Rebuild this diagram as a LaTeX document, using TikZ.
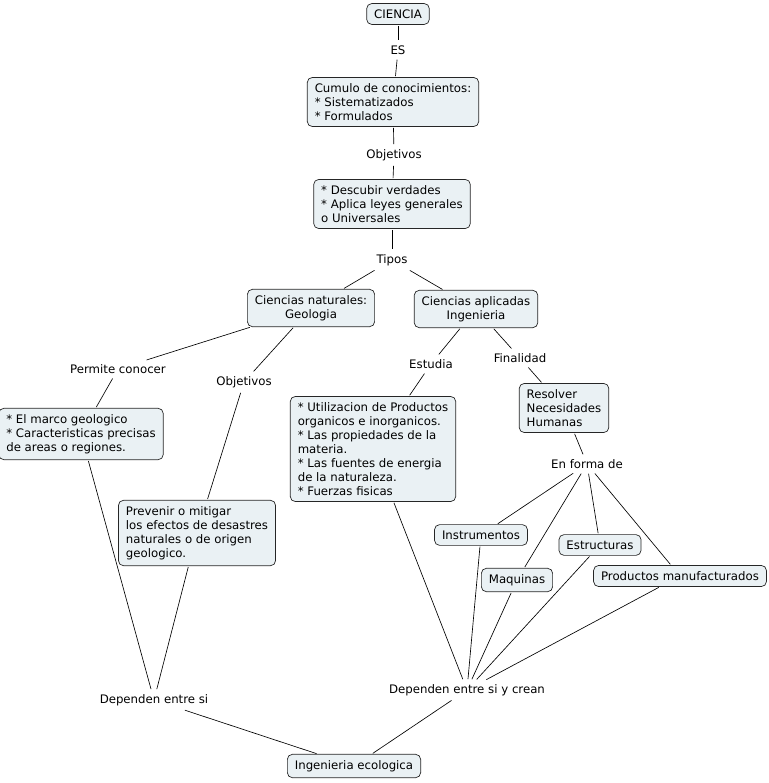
\documentclass[tikz,border=0pt]{standalone}
\usepackage{fontspec}
\setmainfont{DejaVu Sans}
\definecolor{boxfill}{RGB}{234,241,244}
\newcommand\mapfs{\fontsize{11.75}{14}\selectfont}
\tikzset{
  concept/.style={draw=black!85, fill=boxfill, rounded corners=5pt, align=left,
    inner xsep=7.5pt, inner ysep=6pt, font=\mapfs, line width=0.7pt},
  lbl/.style={inner sep=4pt, font=\mapfs},
  link/.style={draw=black, line width=0.65pt, shorten <=1pt, shorten >=1pt}
}
\begin{document}
\begin{tikzpicture}[x=1pt,y=-1pt]
\useasboundingbox (0,0) rectangle (768,783);
% concepts
\node[concept] (ciencia) at (398,14) {CIENCIA};
\node[concept] (cumulo) at (393,102) {Cumulo de conocimientos:\\* Sistematizados\\* Formulados};
\node[concept] (descubir) at (392,204) {* Descubir verdades\\* Aplica leyes generales\\o Universales};
\node[concept, align=center] (nat) at (311,308) {Ciencias naturales:\\Geologia};
\node[concept, align=center] (apl) at (476,309) {Ciencias aplicadas\\Ingenieria};
\node[concept] (marco) at (81,434) {* El marco geologico\\* Caracteristicas precisas\\de areas o regiones.};
\node[concept] (prevenir) at (197,533) {Prevenir o mitigar\\los efectos de desastres\\naturales o de origen\\geologico.};
\node[concept] (util) at (373,449) {* Utilizacion de Productos\\organicos e inorganicos.\\* Las propiedades de la\\materia.\\* Las fuentes de energia\\de la naturaleza.\\* Fuerzas fisicas};
\node[concept] (resolver) at (564,408) {Resolver\\Necesidades\\Humanas};
\node[concept] (instr) at (481,535) {Instrumentos};
\node[concept] (maq) at (517,580) {Maquinas};
\node[concept] (estr) at (600,545) {Estructuras};
\node[concept] (prod) at (680,576) {Productos manufacturados};
\node[concept] (ingeco) at (354,766) {Ingenieria ecologica};
% linking phrases
\node[lbl] (es) at (398,50) {ES};
\node[lbl] (obj1) at (394,155) {Objetivos};
\node[lbl] (tipos) at (392,260) {Tipos};
\node[lbl] (permite) at (118,369) {Permite conocer};
\node[lbl] (obj2) at (244,382) {Objetivos};
\node[lbl] (estudia) at (431,364) {Estudia};
\node[lbl] (final) at (520,358) {Finalidad};
\node[lbl] (forma) at (587,464) {En forma de};
\node[lbl] (dep1) at (154,700) {Dependen entre si};
\node[lbl] (dep2) at (467,690) {Dependen entre si y crean};
% links
\draw[link] (ciencia) -- (es);
\draw[link] (es) -- (cumulo);
\draw[link] (cumulo) -- (obj1);
\draw[link] (obj1) -- (descubir);
\draw[link] (descubir) -- (tipos);
\draw[link] (tipos) -- (nat);
\draw[link] (tipos) -- (apl);
\draw[link] (nat) -- (permite);
\draw[link] (permite) -- (marco);
\draw[link] (nat) -- (obj2);
\draw[link] (obj2) -- (prevenir);
\draw[link] (marco) -- (dep1);
\draw[link] (prevenir) -- (dep1);
\draw[link] (dep1) -- (ingeco);
\draw[link] (apl) -- (estudia);
\draw[link] (estudia) -- (util);
\draw[link] (apl) -- (final);
\draw[link] (final) -- (resolver);
\draw[link] (resolver) -- (forma);
\draw[link] (forma) -- (instr);
\draw[link] (forma) -- (maq);
\draw[link] (forma) -- (estr);
\draw[link] (forma) -- (prod);
\draw[link] (util) -- (dep2);
\draw[link] (instr) -- (dep2);
\draw[link] (maq) -- (dep2);
\draw[link] (estr) -- (dep2);
\draw[link] (prod) -- (dep2);
\draw[link] (dep2) -- (ingeco);
\end{tikzpicture}
\end{document}
